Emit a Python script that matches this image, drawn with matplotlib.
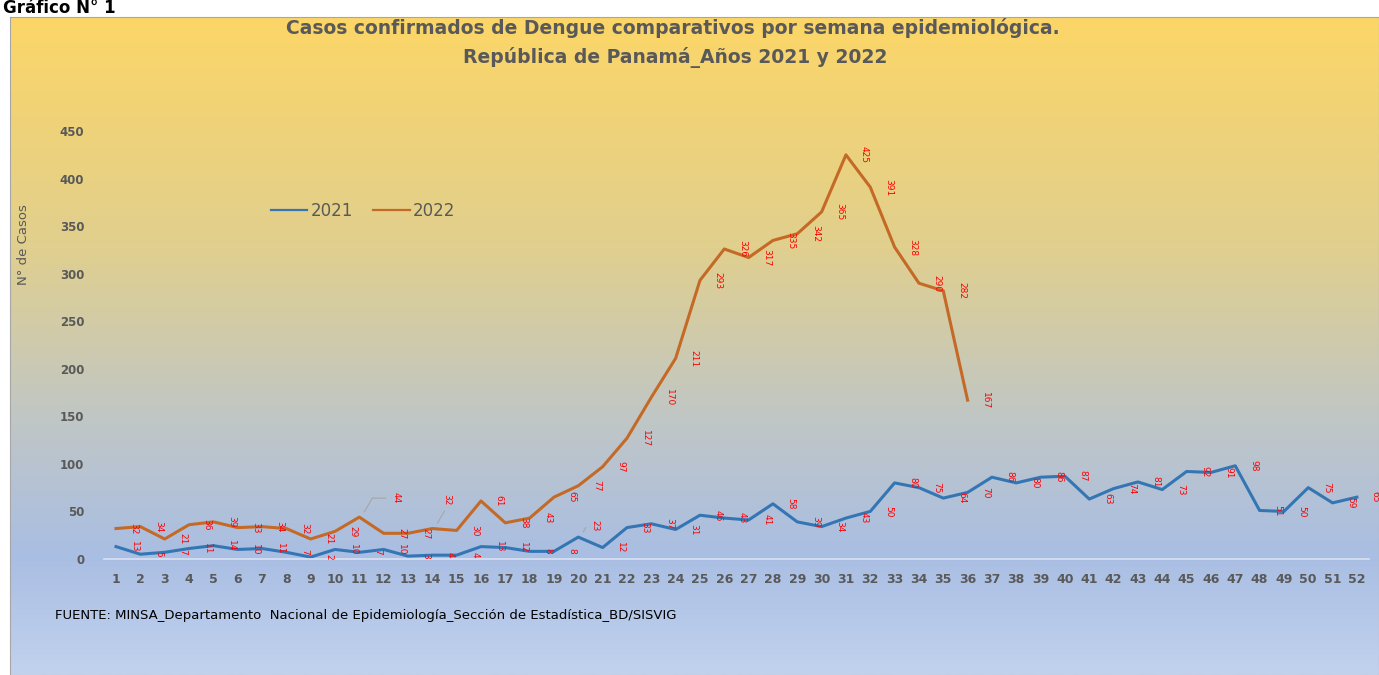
import numpy as np
import matplotlib
matplotlib.use("Agg")
import matplotlib.pyplot as plt
from matplotlib.colors import LinearSegmentedColormap

# Casos confirmados de dengue por semana epidemiológica, Panamá 2021 y 2022
weeks_2021 = list(range(1, 53))
cases_2021 = [13, 5, 7, 11, 14, 10, 11, 7, 2, 10, 7, 10, 3, 4, 4, 13, 12, 8, 8, 23,
              12, 33, 37, 31, 46, 43, 41, 58, 39, 34, 43, 50, 80, 75, 64, 70, 86, 80,
              86, 87, 63, 74, 81, 73, 92, 91, 98, 51, 50, 75, 59, 65]
weeks_2022 = list(range(1, 37))
cases_2022 = [32, 34, 21, 36, 39, 33, 34, 32, 21, 29, 44, 27, 27, 32, 30, 61, 38, 43,
              65, 77, 97, 127, 170, 211, 293, 326, 317, 335, 342, 365, 425, 391, 328,
              290, 282, 167]
yticks = [0, 50, 100, 150, 200, 250, 300, 350, 400, 450]

# labels that Excel pulled away with a leader line: week -> (dx, dy)
leader_2021 = {20: (0.7, 12)}
leader_2022 = {11: (1.5, 20), 14: (0.6, 30)}

blue = "#3476B3"
orange = "#C46A26"
grey = "#595959"

fig = plt.figure(figsize=(13.79, 6.75), dpi=100)
fig.patch.set_facecolor("white")

# gradient background of the chart box
bg = fig.add_axes([10 / 1379, 0, 1 - 10 / 1379, 1 - 17 / 675])
cmap = LinearSegmentedColormap.from_list(
    "bg", [(0.0, "#FCD667"), (0.35, "#E0CF8E"), (0.62, "#BFC6C7"),
           (0.82, "#A9BEE3"), (1.0, "#C2D2EE")])
bg.imshow(np.linspace(0, 1, 256).reshape(-1, 1), aspect="auto", cmap=cmap,
          extent=[0, 1, 0, 1], origin="upper")
bg.set_xticks([])
bg.set_yticks([])
for s in bg.spines.values():
    s.set_color("#A6A6A6")
    s.set_linewidth(0.8)

fig.text(3 / 1379, 1 - 17 / 675, "Gráfico N° 1", fontsize=12, fontweight="bold",
         color="black", ha="left", va="bottom")

ax = fig.add_axes([0.0753, 0.1719, 0.9175, 0.648])
ax.patch.set_alpha(0)
ax.plot(weeks_2021, cases_2021, color=blue, lw=2.2, label="2021")
ax.plot(weeks_2022, cases_2022, color=orange, lw=2.2, label="2022")

def add_labels(weeks, cases, leaders):
    for w, c in zip(weeks, cases):
        if w in leaders:
            dx, dy = leaders[w]
            ax.annotate(str(c), xy=(w + 0.15, c + 3), xytext=(w + dx, c + dy),
                        fontsize=6.5, color="red", rotation=-90,
                        ha="center", va="center", annotation_clip=False,
                        arrowprops=dict(arrowstyle="-", color="#A6A6A6", lw=0.8,
                                        connectionstyle="angle,angleA=0,angleB=60,rad=0"))
        else:
            ax.text(w + 0.75, c, str(c), fontsize=6.5, color="red", rotation=-90,
                    ha="center", va="center", clip_on=False)

add_labels(weeks_2021, cases_2021, leader_2021)
add_labels(weeks_2022, cases_2022, leader_2022)

ax.set_xlim(0.5, 52.5)
ax.set_ylim(0, 460)
ax.set_xticks(weeks_2021)
ax.set_yticks(yticks)
ax.tick_params(length=0, colors=grey)
for lab in ax.get_xticklabels():
    lab.set_fontweight("bold")
    lab.set_fontsize(9)
for lab in ax.get_yticklabels():
    lab.set_fontweight("bold")
    lab.set_fontsize(8.5)
ax.tick_params(axis="x", pad=10)
ax.tick_params(axis="y", pad=14)
for side in ["top", "right", "left"]:
    ax.spines[side].set_visible(False)
ax.spines["bottom"].set_color("#D9E1F2")
ax.spines["bottom"].set_linewidth(1.2)

fig.text(24 / 1379, 1 - 245 / 675, "N° de Casos", rotation=90, fontsize=9.5,
         color=grey, ha="center", va="center")

leg = ax.legend(loc="upper left", bbox_to_anchor=(0.12, 0.85), ncol=2, frameon=False,
                fontsize=12, labelcolor=grey, handlelength=2.2, handletextpad=0.2,
                columnspacing=1.2)
for line in leg.get_lines():
    line.set_linewidth(1.6)

fig.text(673 / 1379, 1 - 28 / 675,
         "Casos confirmados de Dengue comparativos por semana epidemiológica.",
         fontsize=13.5, fontweight="bold", color=grey, ha="center", va="center")
fig.text(675 / 1379, 1 - 57 / 675, "República de Panamá_Años 2021 y 2022",
         fontsize=13.5, fontweight="bold", color=grey, ha="center", va="center")

fig.text(55 / 1379, 1 - 616 / 675,
         "FUENTE: MINSA_Departamento  Nacional de Epidemiología_Sección de Estadística_BD/SISVIG",
         fontsize=9.5, color="black", ha="left", va="center")

fig.savefig("out.png", dpi=100)
